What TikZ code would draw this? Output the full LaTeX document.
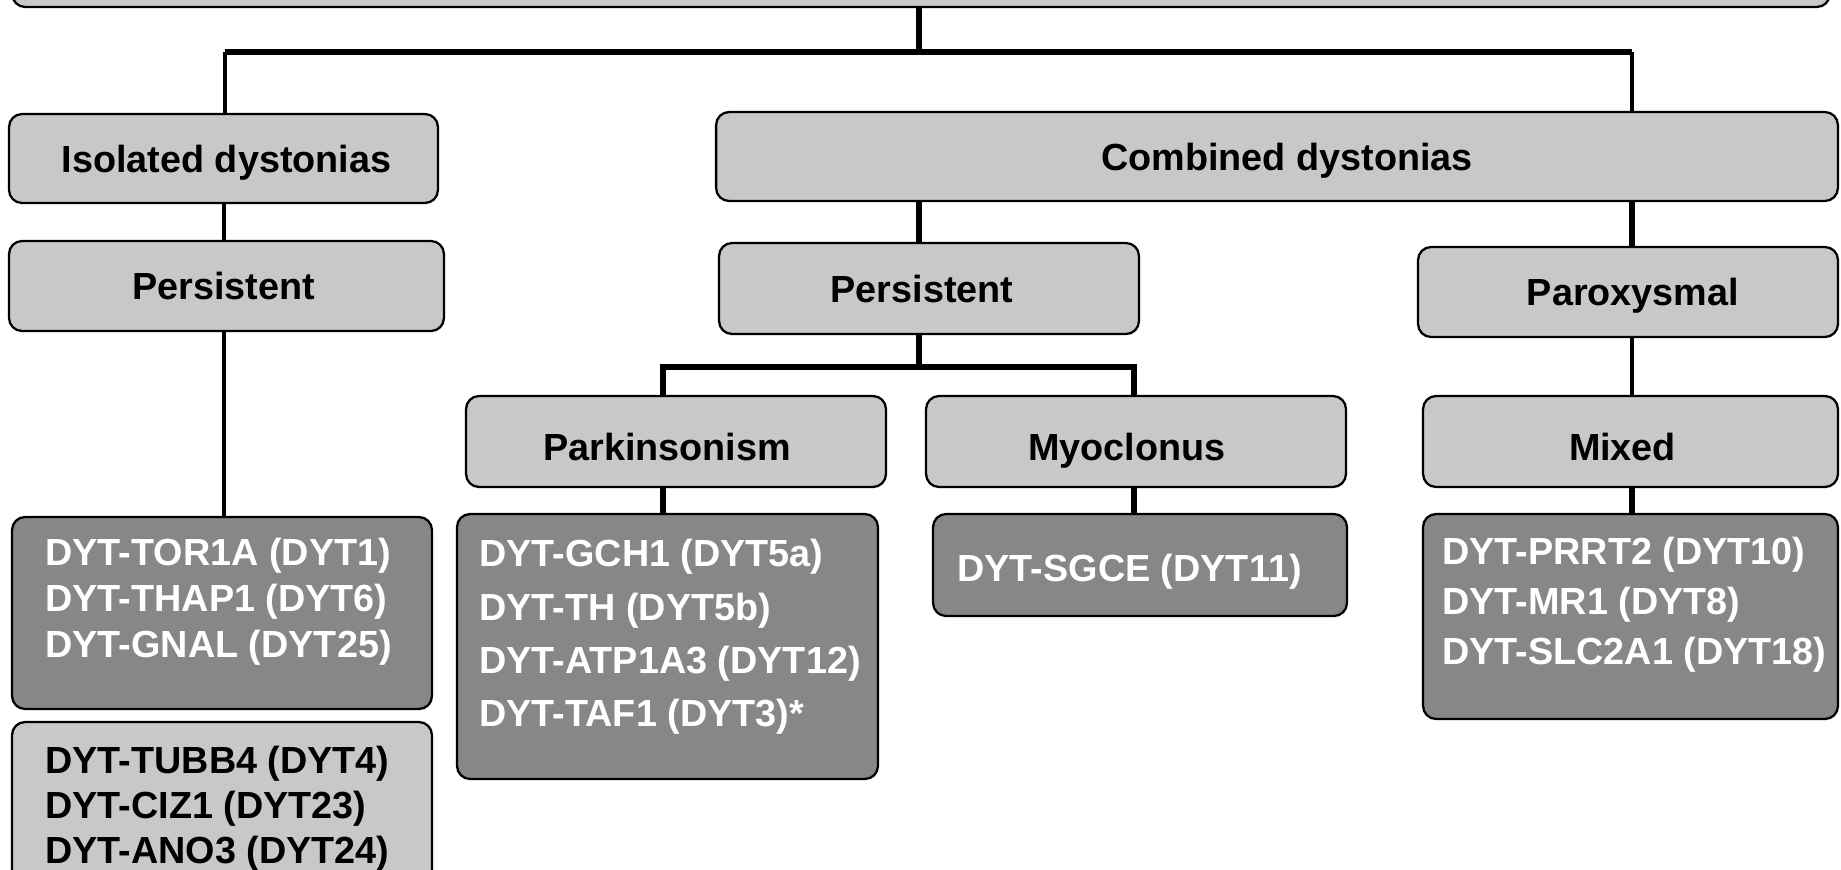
\documentclass[tikz,border=0pt]{standalone}
\usepackage{fontspec}
\setmainfont{Liberation Sans}
\definecolor{lightg}{HTML}{C8C8C8}
\definecolor{darkg}{HTML}{878787}
\begin{document}
\begin{tikzpicture}[x=0.02cm,y=-0.02cm,
  box/.style={draw=black, line width=1.3pt, rounded corners=0.26cm, inner sep=0pt,
    font=\fontsize{21.5}{26}\selectfont\bfseries, text height=0.543cm, text depth=0pt},
  light/.style={box, fill=lightg, text=black},
  low/.style={text height=0.755cm},
  dark/.style={box, fill=darkg},
  thk/.style={line width=3.1pt},
  thn/.style={line width=2pt},
  lst/.style={anchor=north west, inner sep=0pt, align=left, text=white}
]
\useasboundingbox (0,0) rectangle (1841,869);
\clip (0,0) rectangle (1841,869);

% boxes
\node[light, minimum width=36.36cm, minimum height=1.34cm] (top) at (921,-26.5) {};
\node[light, minimum width=8.58cm, minimum height=1.78cm] (iso) at (223.5,158.5) {\hspace*{0.12cm}Isolated dystonias};
\node[light, minimum width=8.70cm, minimum height=1.80cm] (pl) at (226.5,286) {\hspace*{-0.12cm}Persistent};
\node[light, minimum width=22.44cm, minimum height=1.78cm] (comb) at (1277,156.5) {\hspace*{0.4cm}Combined dystonias};
\node[light, minimum width=8.40cm, minimum height=1.82cm] (pm) at (929,288.5) {Persistent\hspace*{0.28cm}};
\node[light, minimum width=8.40cm, minimum height=1.80cm] (par) at (1628,292) {\hspace*{0.2cm}Paroxysmal};
\node[light, low, minimum width=8.40cm, minimum height=1.82cm] (park) at (676,441.5) {Parkinsonism\hspace*{0.36cm}};
\node[light, low, minimum width=8.40cm, minimum height=1.82cm] (myo) at (1136,441.5) {Myoclonus\hspace*{0.36cm}};
\node[light, low, minimum width=8.30cm, minimum height=1.82cm] (mix) at (1630.5,441.5) {Mixed\hspace*{0.32cm}};
\node[dark, minimum width=8.40cm, minimum height=3.84cm] (tor) at (222,613) {};
\node[light, minimum width=8.40cm, minimum height=3.56cm] (tubb) at (222,811) {};
\node[dark, minimum width=8.42cm, minimum height=5.30cm] (gch) at (667.5,646.5) {};
\node[dark, minimum width=8.28cm, minimum height=2.04cm] (sgce) at (1140,565) {};
\node[dark, minimum width=8.30cm, minimum height=4.10cm] (prrt) at (1630.5,616.5) {};

% list texts
\node[lst, font=\fontsize{21.5}{26.1}\selectfont\bfseries] (tort) at (45,538)
  {DYT-TOR1A (DYT1)\\DYT-THAP1 (DYT6)\\DYT-GNAL (DYT25)};
\node[lst, text=black, font=\fontsize{21.5}{25.6}\selectfont\bfseries] (tubbt) at (45,746)
  {DYT-TUBB4 (DYT4)\\DYT-CIZ1 (DYT23)\\DYT-ANO3 (DYT24)};
\node[lst, font=\fontsize{21.5}{30.4}\selectfont\bfseries] (gcht) at (479,539)
  {DYT-GCH1 (DYT5a)\\DYT-TH (DYT5b)\\DYT-ATP1A3 (DYT12)\\DYT-TAF1 (DYT3)*};
\node[lst, font=\fontsize{21.5}{26}\selectfont\bfseries] (sgcet) at (957,554)
  {DYT-SGCE (DYT11)};
\node[lst, font=\fontsize{21.5}{28.5}\selectfont\bfseries] (prrtt) at (1442,537)
  {DYT-PRRT2 (DYT10)\\DYT-MR1 (DYT8)\\DYT-SLC2A1 (DYT18)};

% connectors
\coordinate (bl) at (225,52);
\coordinate (bm) at (919,52);
\coordinate (br) at (1632,52);
\coordinate (cl) at (224,0);
\coordinate (sl) at (663,367);
\coordinate (sr) at (1134,367);
\draw[thk] (top.south -| bm) -- (bm);
\draw[thk, line join=round] (bl) -- (br);
\draw[thn] (bl) -- (iso.north -| bl);
\draw[thn] (br) -- (comb.north -| br);
\draw[thn] (iso.south -| cl) -- (pl.north -| cl);
\draw[thn] (pl.south -| cl) -- (tor.north -| cl);
\draw[thk] (comb.south -| bm) -- (pm.north -| bm);
\draw[thk] (comb.south -| br) -- (par.north -| br);
\draw[thn] (par.south -| br) -- (mix.north -| br);
\draw[thk] (mix.south -| br) -- (prrt.north -| br);
\draw[thk] (pm.south -| bm) -- (bm |- sl);
\draw[thk] (park.north -| sl) -- (sl) -- (sr) -- (myo.north -| sr);
\draw[thk] (park.south -| sl) -- (gch.north -| sl);
\draw[thk] (myo.south -| sr) -- (sgce.north -| sr);
\end{tikzpicture}
\end{document}
